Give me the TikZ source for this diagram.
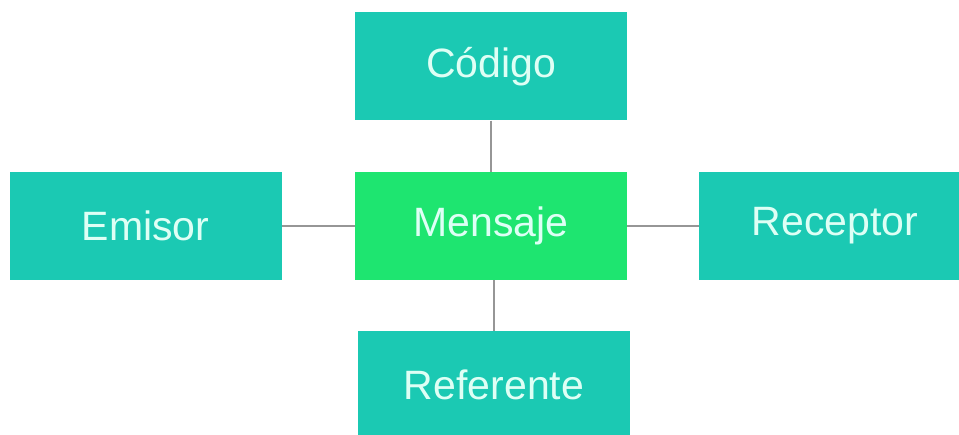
\documentclass[tikz,border=0pt]{standalone}
\usepackage{fontspec}
\setmainfont{Liberation Sans}
\usepackage{xcolor}
\definecolor{tealbox}{RGB}{27,201,179}
\definecolor{greenbox}{RGB}{30,229,112}
\definecolor{boxtext}{RGB}{222,255,245}
\definecolor{linkgray}{RGB}{150,150,150}

\begin{document}
\begin{tikzpicture}[x=1pt,y=1pt,inner sep=0pt,
  box/.style={rectangle,fill=tealbox,text=boxtext,minimum width=272pt,minimum height=108pt,
    font=\fontsize{41}{41}\selectfont},
  mainbox/.style={box,fill=greenbox},
  link/.style={draw=linkgray,line width=1.6pt}]
\useasboundingbox (0,0) rectangle (959,434);
\node[box] (codigo) at (491,367.5) {Código};
\node[box] (emisor) at (145.5,208) {Emisor};
\node[mainbox] (mensaje) at (491,208) {Mensaje};
\node[box] (receptor) at (835,208) {Receptor};
\node[box] (referente) at (494,49) {Referente};
\path (codigo) edge [link] (mensaje);
\path (emisor) edge [link] (mensaje);
\path (mensaje) edge [link] (receptor);
\path (mensaje.south -| referente) edge [link] (referente);
\end{tikzpicture}
\end{document}
